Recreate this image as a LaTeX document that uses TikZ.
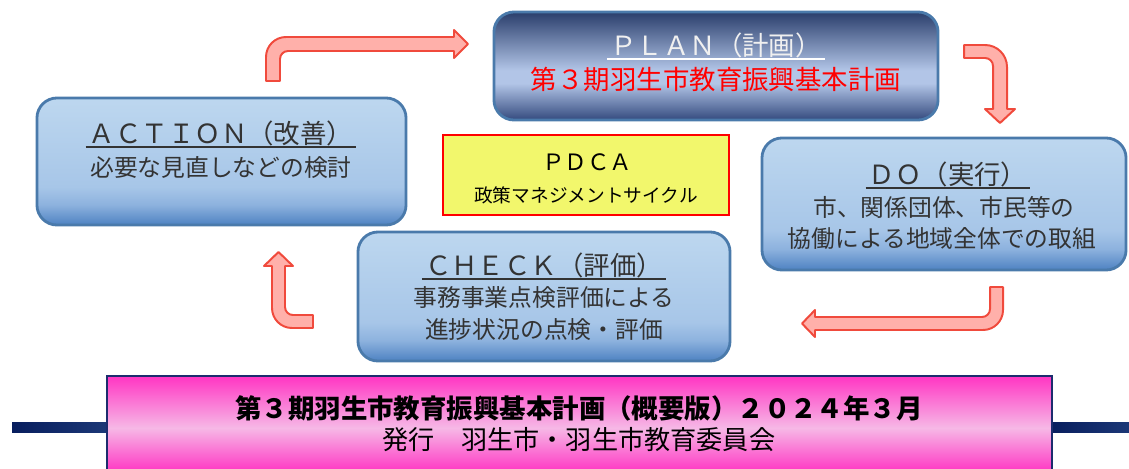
\documentclass[tikz,border=0pt]{standalone}
\usepackage{fontspec}
\setmainfont{Noto Sans CJK JP}
\usepackage{tikz}
\usetikzlibrary{positioning}

\definecolor{boxedge}{HTML}{4A7AAB}
\definecolor{bluetop}{HTML}{BDD7EF}
\definecolor{bluemid}{HTML}{A7C6E8}
\definecolor{bluebend}{HTML}{8DB2DE}
\definecolor{bluelow}{HTML}{4E82C2}
\definecolor{navytop}{HTML}{2A3E6C}
\definecolor{navylight}{HTML}{B2C5E7}
\definecolor{navylow}{HTML}{344A7E}
\definecolor{arrowedge}{HTML}{F04A3C}
\definecolor{arrowfill}{HTML}{FFB0AA}
\definecolor{pdcafill}{HTML}{F2F76C}
\definecolor{barnavy}{HTML}{081E5E}
\definecolor{barnavyb}{HTML}{1C3877}
\definecolor{footedge}{HTML}{1C2D6E}
\definecolor{footmag}{HTML}{FF35C3}
\definecolor{footpale}{HTML}{F6B8E6}
\definecolor{textgray}{HTML}{333333}

\pgfdeclareverticalshading{bluebox}{100bp}{color(0bp)=(bluelow); color(25bp)=(bluelow); color(33bp)=(bluebend); color(40bp)=(bluemid); color(75bp)=(bluetop); color(100bp)=(bluetop)}
\pgfdeclareverticalshading{planbox}{100bp}{color(0bp)=(navylow); color(25bp)=(navylow); color(42bp)=(navylight); color(48bp)=(navylight); color(75bp)=(navytop); color(100bp)=(navytop)}
\pgfdeclareverticalshading{footbox}{100bp}{color(0bp)=(footmag); color(25bp)=(footmag); color(48bp)=(footpale); color(75bp)=(footmag); color(100bp)=(footmag)}

\newcommand\headfont{\fontsize{18.8pt}{22pt}\selectfont}
\newcommand\bodyfont{\fontsize{16.9pt}{20pt}\selectfont}

\tikzstyle{stagebox} = [draw=boxedge, line width=2pt, rounded corners=0.5cm, shading=bluebox]
\tikzstyle{planstage} = [draw=boxedge, line width=2pt, rounded corners=0.5cm, shading=planbox]
\tikzstyle{head} = [inner sep=0pt, font=\headfont, text=textgray]
\tikzstyle{body} = [inner sep=0pt, font=\bodyfont, text=textgray]
\tikzstyle{bentarrow} = [draw=arrowedge, fill=arrowfill, line width=1.4pt, line join=round]

\begin{document}
\begin{tikzpicture}[x=0.025cm, y=-0.025cm]
\useasboundingbox (0,0) rectangle (1129,468);
\clip (0,0) rectangle (1129,468);

\node[planstage, minimum width=11.1cm, minimum height=2.7cm] (plan) at (716,66) {};
\node[stagebox, minimum width=9.225cm, minimum height=3.175cm] (action) at (221.5,161.5) {};
\node[stagebox, minimum width=9.1cm, minimum height=3.3cm] (do) at (944,204) {};
\node[stagebox, minimum width=9.3cm, minimum height=3.225cm] (check) at (544,296.5) {};
\node[draw=red, line width=1.6pt, fill=pdcafill, minimum width=7.15cm, minimum height=2cm] (pdca) at (586,175) {};

% stage texts
\node[head, text=white!94!black] (plantitle) at (716,45) {ＰＬＡＮ（計画）};
\node[head, text=red] (plantext) at (716,79) {第３期羽生市教育振興基本計画};
\draw[white, line width=1.3pt] ([xshift=-2pt,yshift=-1pt]plantitle.south west) -- ([xshift=2pt,yshift=-1pt]plantitle.south east);

\node[head] (actiontitle) at (221,133) {ＡＣＴＩＯＮ（改善）};
\node[body] (actiontext) at (221,167) {必要な見直しなどの検討};
\draw[textgray, line width=1.3pt] ([xshift=-2pt,yshift=-1pt]actiontitle.south west) -- ([xshift=2pt,yshift=-1pt]actiontitle.south east);

\node[head] (dotitle) at (948,174) {ＤＯ（実行）};
\node[body] (dotexta) at (944,207) {市、関係団体、市民等の};
\node[body] (dotextb) at (942,238) {協働による地域全体での取組};
\draw[textgray, line width=1.3pt] ([xshift=-2pt,yshift=-1pt]dotitle.south west) -- ([xshift=2pt,yshift=-1pt]dotitle.south east);

\node[head] (checktitle) at (544,265) {ＣＨＥＣＫ（評価）};
\node[body] (checktexta) at (544,298) {事務事業点検評価による};
\node[body] (checktextb) at (544,330) {進捗状況の点検・評価};
\draw[textgray, line width=1.3pt] ([xshift=-2pt,yshift=-1pt]checktitle.south west) -- ([xshift=2pt,yshift=-1pt]checktitle.south east);

\node[inner sep=0pt, font=\fontsize{16pt}{19pt}\selectfont] (pdcatitle) at (587,162) {ＰＤＣＡ};
\node[inner sep=0pt, font=\fontsize{13.3pt}{16pt}\selectfont] (pdcatext) at (586,195) {政策マネジメントサイクル};

% bent arrows between the stages
\draw[bentarrow] (266,81) -- (266,57) to[out=90,in=180] (286,37) -- (454,37) -- (454,30) -- (468,44)
  -- (454,58) -- (454,51) -- (288,51) to[out=180,in=90] (280,59) -- (280,81) -- cycle;
\draw[bentarrow] (964,45) -- (985,45) to[out=0,in=90] (1007,67) -- (1007,109) -- (1015,109) -- (1000,123)
  -- (985,109) -- (993,109) -- (993,66) to[out=90,in=0] (985,58) -- (964,58) -- cycle;
\draw[bentarrow] (990,287) -- (1003,287) -- (1003,310) to[out=-90,in=0] (983,330) -- (815,330) -- (815,337)
  -- (802,323.5) -- (815,310) -- (815,317) -- (982,317) to[out=0,in=-90] (990,309) -- cycle;
\draw[bentarrow] (313,328) -- (292,328) to[out=180,in=-90] (272,308) -- (272,266) -- (264,266) -- (278.5,252)
  -- (293,266) -- (285,266) -- (285,307) to[out=-90,in=180] (293,315) -- (313,315) -- cycle;

% footer band
\foreach \xa/\xb in {12/108,1051/1130}
{
\fill[left color=barnavy, right color=barnavyb] (\xa,422) rectangle (\xb,432);
}
\node[draw=footedge, line width=1.5pt, shading=footbox, minimum width=23.625cm, minimum height=2.4cm] (footer) at (579.5,424) {};
\node[inner sep=0pt, font=\fontsize{18.8pt}{22pt}\selectfont\bfseries] (footlinea) at (579,408) {第３期羽生市教育振興基本計画（概要版）２０２４年３月};
\node[inner sep=0pt, font=\fontsize{18.6pt}{22pt}\selectfont] (footlineb) at (579,440) {発行　羽生市・羽生市教育委員会};

\end{tikzpicture}
\end{document}
